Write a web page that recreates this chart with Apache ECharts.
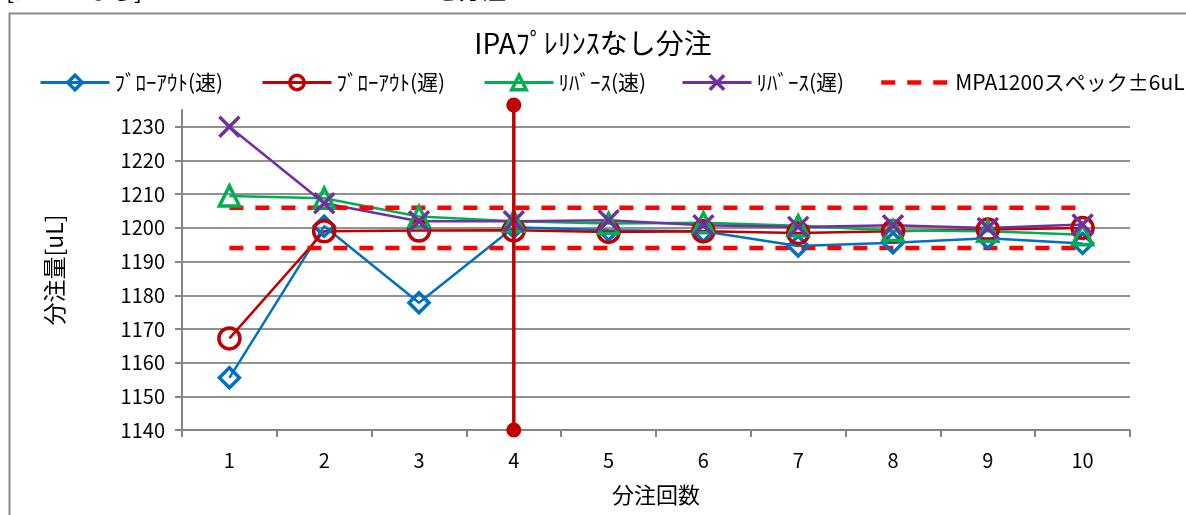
<!DOCTYPE html>
<html>
<head>
<meta charset="utf-8">
<script src="https://cdn.jsdelivr.net/npm/echarts@6/dist/echarts.min.js"></script>
<style>html,body{margin:0;padding:0;background:#fff;}#c{width:1186px;height:515px;}</style>
</head>
<body>
<div id="c"></div>
<script>
const categories = ['1','2','3','4','5','6','7','8','9','10'];
const yTicks = [1140,1150,1160,1170,1180,1190,1200,1210,1220,1230];
const blowFast = [1155.5, 1200.5, 1177.8, 1200.2, 1199.3, 1199.0, 1194.6, 1195.6, 1196.9, 1195.4];
const blowSlow = [1167.2, 1199.0, 1199.2, 1199.3, 1198.8, 1199.0, 1198.5, 1199.0, 1199.5, 1200.0];
const revFast  = [1209.5, 1208.8, 1203.4, 1202.0, 1201.3, 1201.5, 1200.6, 1199.2, 1199.0, 1198.0];
const revSlow  = [1230.0, 1207.3, 1202.0, 1202.0, 1202.3, 1200.8, 1200.3, 1200.8, 1200.0, 1201.0];
const specUpper = [1206,1206,1206,1206,1206,1206,1206,1206,1206,1206];
const specLower = [1194,1194,1194,1194,1194,1194,1194,1194,1194,1194];
const markerCategory = '4';
const markerRange = [1140, 1236.5];
const names = ['ﾌﾞﾛｰｱｳﾄ(速)','ﾌﾞﾛｰｱｳﾄ(遅)','ﾘﾊﾞｰｽ(速)','ﾘﾊﾞｰｽ(遅)','MPA1200スペック±6uL'];
const titleText = 'IPAﾌﾟﾚﾘﾝｽなし分注';
const headerText = '[ﾌﾟﾚﾘﾝｽなし] MPA-1200　で　1200uL　を分注';

const FONT = '"Noto Sans CJK JP", "Noto Sans", sans-serif';
const chart = echarts.init(document.getElementById('c'), null, {renderer:'canvas'});

const xPath = 'path://M0,0L10,10M10,0L0,10';
function lineSeries(name, data, color, symbol, size) {
  return {
    name, type:'line', data, symbol, symbolSize:size,
    lineStyle:{color, width:2.5},
    itemStyle:{color:'rgba(0,0,0,0)', borderColor:color, borderWidth:3.5},
    emphasis:{disabled:true}
  };
}
const legendLefts = [34, 256, 478, 676, 874];
const legends = names.map((n,i)=>{
  const l = {
    data:[n], left:legendLefts[i], top:67, itemWidth:69, itemHeight:18,
    textStyle:{fontFamily:FONT, fontSize:21, color:'#000'}, selectedMode:false,
    lineStyle:{width:3}, itemStyle:{borderWidth:3.5}
  };
  if (i === 4) { l.itemStyle = {color:'rgba(0,0,0,0)', borderWidth:0, opacity:0}; l.lineStyle = {width:4.5}; }
  return l;
});

const markerData = markerRange.map(v => [categories.indexOf(markerCategory), v]);

const option = {
  animation:false,
  title:{text:titleText, left:'center', top:24,
    textStyle:{fontFamily:FONT, fontSize:28, fontWeight:'normal', color:'#000'}},
  legend:legends,
  grid:{left:182, right:56, top:110, bottom:85, containLabel:false},
  graphic:[
    {type:'rect', shape:{x:9.5, y:13.5, width:1300, height:700}, style:{fill:'none', stroke:'#8a8a8a', lineWidth:2}, z:-10, silent:true},
    {type:'text', x:6, y:-22, style:{text:headerText, font:'24px "Noto Sans CJK JP"', fill:'#000', verticalAlign:'top'}, silent:true}
  ],
  xAxis:{
    type:'category', data:categories, boundaryGap:true,
    name:'分注回数', nameLocation:'middle', nameGap:54,
    nameTextStyle:{fontFamily:FONT, fontSize:22, color:'#000'},
    axisLine:{lineStyle:{color:'#868686', width:2}},
    axisTick:{show:true, length:7, lineStyle:{color:'#868686', width:2}},
    axisLabel:{fontFamily:FONT, fontSize:20, color:'#000', margin:20},
    splitLine:{show:false}
  },
  yAxis:{
    type:'value', min:1140, max:1235, interval:10,
    name:'分注量[uL]', nameLocation:'middle', nameGap:116, nameRotate:90,
    nameTextStyle:{fontFamily:FONT, fontSize:23, color:'#000'},
    axisLine:{show:true, lineStyle:{color:'#868686', width:2}},
    axisTick:{show:true, length:7, customValues:yTicks, lineStyle:{color:'#868686', width:2}},
    axisLabel:{fontFamily:FONT, fontSize:20, color:'#000', margin:17, customValues:yTicks,
      formatter:(v)=>String(v)},
    splitLine:{show:true, lineStyle:{color:'#919191', width:2}}
  },
  series:[
    lineSeries(names[0], blowFast, '#0070C0', 'diamond', 20),
    lineSeries(names[1], blowSlow, '#C00000', 'circle', 21),
    lineSeries(names[2], revFast, '#00B050', 'triangle', 20),
    lineSeries(names[3], revSlow, '#7030A0', xPath, 20),
    {name:names[4], type:'line', data:specUpper, symbol:'none', lineStyle:{color:'#FF0000', width:4.5, type:[14,12]}, itemStyle:{color:'#FF0000'}, emphasis:{disabled:true}},
    {name:names[4], type:'line', data:specLower, symbol:'none', lineStyle:{color:'#FF0000', width:4.5, type:[14,12]}, itemStyle:{color:'#FF0000'}, emphasis:{disabled:true}},
    {name:'marker', type:'line', data:markerData, symbol:'circle', symbolSize:15, clip:false,
      lineStyle:{color:'#C00000', width:3.5}, itemStyle:{color:'#C00000'}, emphasis:{disabled:true}, z:5}
  ]
};
chart.setOption(option);
</script>
</body>
</html>
